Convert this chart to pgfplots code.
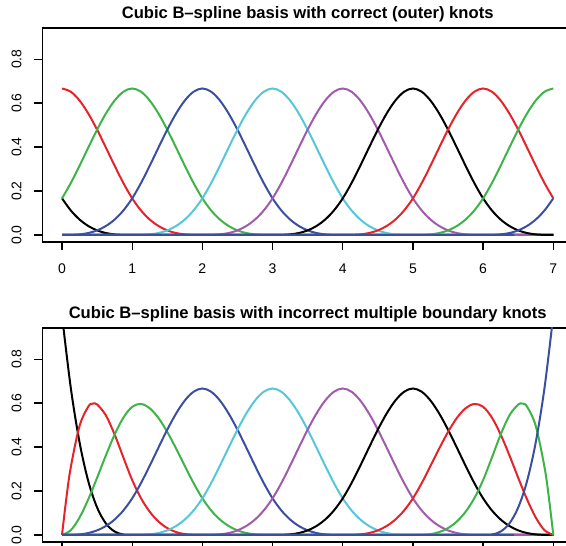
\documentclass[border=0pt]{standalone}
\usepackage{pgfplots}
\pgfplotsset{compat=1.18}
\usepackage{fontspec}
\setmainfont{Liberation Sans}

\definecolor{rred}{HTML}{E6232A}
\definecolor{rgreen}{HTML}{3DB449}
\definecolor{rblue}{HTML}{3A4FA0}
\definecolor{rcyan}{HTML}{56C7DA}
\definecolor{rmagenta}{HTML}{A05BAB}

\pgfplotsset{
  rpanel/.style={
    scale only axis, width=530.6pt, height=214pt,
    xmin=-0.28, xmax=7.28, ymin=-0.032, ymax=0.942,
    xtick={0,1,2,3,4,5,6,7}, ytick={0,0.2,0.4,0.6,0.8},
    xtick pos=bottom, ytick pos=left,
    tick align=outside, major tick length=8pt,
    tick style={black, line width=1.3pt},
    axis line style={line width=1.5pt},
    /pgf/number format/assume math mode=true,
    tick label style={font=\fontsize{14}{16}\selectfont},
    yticklabel style={xshift=-13pt, rotate=90, anchor=base, inner sep=0pt,
      /pgf/number format/fixed, /pgf/number format/fixed zerofill,
      /pgf/number format/precision=1},
    xticklabel style={anchor=base, inner sep=0pt, yshift=-24pt},
    title style={font=\bfseries\fontsize{16.6}{20}\selectfont, anchor=base,
      at={(0.5,1)}, yshift=3.5pt, inner sep=0pt},
    every axis plot/.append style={line width=2pt, no markers, smooth, tension=0.55},
  }
}

\begin{document}
\begin{tikzpicture}
% ---- top: knots at the integers, well outside [0,7]
\begin{axis}[rpanel, at={(42.35pt,304pt)}, anchor=south west,
  title={Cubic B\textendash spline basis with correct (outer) knots}]
\addplot[black] coordinates {(0,0.1667)(0.125,0.1117)(0.25,0.0703)(0.375,0.0407)(0.5,0.0208)(0.625,0.0088)(0.75,0.0026)(0.875,0.0003)(1,0)(7,0)};
\addplot[rred] coordinates {(0,0.6667)(0.125,0.6520)(0.25,0.6120)(0.375,0.5524)(0.5,0.4792)(0.625,0.3981)(0.75,0.3151)(0.875,0.2360)(1,0.1667)(1.125,0.1117)(1.25,0.0703)(1.375,0.0407)(1.5,0.0208)(1.625,0.0088)(1.75,0.0026)(1.875,0.0003)(2,0)(7,0)};
\addplot[rgreen] coordinates {(0,0.1667)(0.125,0.2360)(0.25,0.3151)(0.375,0.3981)(0.5,0.4792)(0.625,0.5524)(0.75,0.6120)(0.875,0.6520)(1,0.6667)(1.125,0.6520)(1.25,0.6120)(1.375,0.5524)(1.5,0.4792)(1.625,0.3981)(1.75,0.3151)(1.875,0.2360)(2,0.1667)(2.125,0.1117)(2.25,0.0703)(2.375,0.0407)(2.5,0.0208)(2.625,0.0088)(2.75,0.0026)(2.875,0.0003)(3,0)(7,0)};
\addplot[rblue] coordinates {(0,0)(0.125,0.0003)(0.25,0.0026)(0.375,0.0088)(0.5,0.0208)(0.625,0.0407)(0.75,0.0703)(0.875,0.1117)(1,0.1667)(1.125,0.2360)(1.25,0.3151)(1.375,0.3981)(1.5,0.4792)(1.625,0.5524)(1.75,0.6120)(1.875,0.6520)(2,0.6667)(2.125,0.6520)(2.25,0.6120)(2.375,0.5524)(2.5,0.4792)(2.625,0.3981)(2.75,0.3151)(2.875,0.2360)(3,0.1667)(3.125,0.1117)(3.25,0.0703)(3.375,0.0407)(3.5,0.0208)(3.625,0.0088)(3.75,0.0026)(3.875,0.0003)(4,0)(7,0)};
\addplot[rcyan] coordinates {(0,0)(1,0)(1.125,0.0003)(1.25,0.0026)(1.375,0.0088)(1.5,0.0208)(1.625,0.0407)(1.75,0.0703)(1.875,0.1117)(2,0.1667)(2.125,0.2360)(2.25,0.3151)(2.375,0.3981)(2.5,0.4792)(2.625,0.5524)(2.75,0.6120)(2.875,0.6520)(3,0.6667)(3.125,0.6520)(3.25,0.6120)(3.375,0.5524)(3.5,0.4792)(3.625,0.3981)(3.75,0.3151)(3.875,0.2360)(4,0.1667)(4.125,0.1117)(4.25,0.0703)(4.375,0.0407)(4.5,0.0208)(4.625,0.0088)(4.75,0.0026)(4.875,0.0003)(5,0)(7,0)};
\addplot[rmagenta] coordinates {(0,0)(2,0)(2.125,0.0003)(2.25,0.0026)(2.375,0.0088)(2.5,0.0208)(2.625,0.0407)(2.75,0.0703)(2.875,0.1117)(3,0.1667)(3.125,0.2360)(3.25,0.3151)(3.375,0.3981)(3.5,0.4792)(3.625,0.5524)(3.75,0.6120)(3.875,0.6520)(4,0.6667)(4.125,0.6520)(4.25,0.6120)(4.375,0.5524)(4.5,0.4792)(4.625,0.3981)(4.75,0.3151)(4.875,0.2360)(5,0.1667)(5.125,0.1117)(5.25,0.0703)(5.375,0.0407)(5.5,0.0208)(5.625,0.0088)(5.75,0.0026)(5.875,0.0003)(6,0)(7,0)};
\addplot[black] coordinates {(0,0)(3,0)(3.125,0.0003)(3.25,0.0026)(3.375,0.0088)(3.5,0.0208)(3.625,0.0407)(3.75,0.0703)(3.875,0.1117)(4,0.1667)(4.125,0.2360)(4.25,0.3151)(4.375,0.3981)(4.5,0.4792)(4.625,0.5524)(4.75,0.6120)(4.875,0.6520)(5,0.6667)(5.125,0.6520)(5.25,0.6120)(5.375,0.5524)(5.5,0.4792)(5.625,0.3981)(5.75,0.3151)(5.875,0.2360)(6,0.1667)(6.125,0.1117)(6.25,0.0703)(6.375,0.0407)(6.5,0.0208)(6.625,0.0088)(6.75,0.0026)(6.875,0.0003)(7,0)};
\addplot[rred] coordinates {(0,0)(4,0)(4.125,0.0003)(4.25,0.0026)(4.375,0.0088)(4.5,0.0208)(4.625,0.0407)(4.75,0.0703)(4.875,0.1117)(5,0.1667)(5.125,0.2360)(5.25,0.3151)(5.375,0.3981)(5.5,0.4792)(5.625,0.5524)(5.75,0.6120)(5.875,0.6520)(6,0.6667)(6.125,0.6520)(6.25,0.6120)(6.375,0.5524)(6.5,0.4792)(6.625,0.3981)(6.75,0.3151)(6.875,0.2360)(7,0.1667)};
\addplot[rgreen] coordinates {(0,0)(5,0)(5.125,0.0003)(5.25,0.0026)(5.375,0.0088)(5.5,0.0208)(5.625,0.0407)(5.75,0.0703)(5.875,0.1117)(6,0.1667)(6.125,0.2360)(6.25,0.3151)(6.375,0.3981)(6.5,0.4792)(6.625,0.5524)(6.75,0.6120)(6.875,0.6520)(7,0.6667)};
\addplot[rblue] coordinates {(0,0)(6,0)(6.125,0.0003)(6.25,0.0026)(6.375,0.0088)(6.5,0.0208)(6.625,0.0407)(6.75,0.0703)(6.875,0.1117)(7,0.1667)};
\end{axis}

% ---- bottom: boundary knots repeated four times at 0 and 7
% (its tick numbers fall below the cropped edge, as in the reference)
\begin{axis}[rpanel, at={(42.35pt,4pt)}, anchor=south west,
  xticklabels={},
  title={Cubic B\textendash spline basis with incorrect multiple boundary knots}]
\addplot[black] coordinates {(0,1)(0.125,0.6699)(0.25,0.4219)(0.375,0.2441)(0.5,0.125)(0.625,0.0527)(0.75,0.0156)(0.875,0.0020)(1,0)(7,0)};
\addplot[rred] coordinates {(0,0)(0.0625,0.1685)(0.125,0.3081)(0.25,0.4961)(0.375,0.5845)(0.4375,0.5977)(0.5,0.5938)(0.625,0.5444)(0.75,0.4570)(0.875,0.3521)(1,0.25)(1.125,0.1675)(1.25,0.1055)(1.375,0.0610)(1.5,0.0313)(1.625,0.0132)(1.75,0.0039)(1.875,0.0005)(2,0)(7,0)};
\addplot[rgreen] coordinates {(0,0)(0.125,0.0216)(0.25,0.0794)(0.375,0.1626)(0.5,0.2604)(0.625,0.3621)(0.75,0.4570)(0.875,0.5343)(1,0.5833)(1.125,0.5962)(1.25,0.5768)(1.375,0.5321)(1.5,0.4688)(1.625,0.3937)(1.75,0.3138)(1.875,0.2358)(2,0.1667)(2.125,0.1117)(2.25,0.0703)(2.375,0.0407)(2.5,0.0208)(2.625,0.0088)(2.75,0.0026)(2.875,0.0003)(3,0)(7,0)};
\addplot[rblue] coordinates {(0,0)(0.125,0.0003)(0.25,0.0026)(0.375,0.0088)(0.5,0.0208)(0.625,0.0407)(0.75,0.0703)(0.875,0.1117)(1,0.1667)(1.125,0.2360)(1.25,0.3151)(1.375,0.3981)(1.5,0.4792)(1.625,0.5524)(1.75,0.6120)(1.875,0.6520)(2,0.6667)(2.125,0.6520)(2.25,0.6120)(2.375,0.5524)(2.5,0.4792)(2.625,0.3981)(2.75,0.3151)(2.875,0.2360)(3,0.1667)(3.125,0.1117)(3.25,0.0703)(3.375,0.0407)(3.5,0.0208)(3.625,0.0088)(3.75,0.0026)(3.875,0.0003)(4,0)(7,0)};
\addplot[rcyan] coordinates {(0,0)(1,0)(1.125,0.0003)(1.25,0.0026)(1.375,0.0088)(1.5,0.0208)(1.625,0.0407)(1.75,0.0703)(1.875,0.1117)(2,0.1667)(2.125,0.2360)(2.25,0.3151)(2.375,0.3981)(2.5,0.4792)(2.625,0.5524)(2.75,0.6120)(2.875,0.6520)(3,0.6667)(3.125,0.6520)(3.25,0.6120)(3.375,0.5524)(3.5,0.4792)(3.625,0.3981)(3.75,0.3151)(3.875,0.2360)(4,0.1667)(4.125,0.1117)(4.25,0.0703)(4.375,0.0407)(4.5,0.0208)(4.625,0.0088)(4.75,0.0026)(4.875,0.0003)(5,0)(7,0)};
\addplot[rmagenta] coordinates {(0,0)(2,0)(2.125,0.0003)(2.25,0.0026)(2.375,0.0088)(2.5,0.0208)(2.625,0.0407)(2.75,0.0703)(2.875,0.1117)(3,0.1667)(3.125,0.2360)(3.25,0.3151)(3.375,0.3981)(3.5,0.4792)(3.625,0.5524)(3.75,0.6120)(3.875,0.6520)(4,0.6667)(4.125,0.6520)(4.25,0.6120)(4.375,0.5524)(4.5,0.4792)(4.625,0.3981)(4.75,0.3151)(4.875,0.2360)(5,0.1667)(5.125,0.1117)(5.25,0.0703)(5.375,0.0407)(5.5,0.0208)(5.625,0.0088)(5.75,0.0026)(5.875,0.0003)(6,0)(7,0)};
\addplot[black] coordinates {(0,0)(3,0)(3.125,0.0003)(3.25,0.0026)(3.375,0.0088)(3.5,0.0208)(3.625,0.0407)(3.75,0.0703)(3.875,0.1117)(4,0.1667)(4.125,0.2360)(4.25,0.3151)(4.375,0.3981)(4.5,0.4792)(4.625,0.5524)(4.75,0.6120)(4.875,0.6520)(5,0.6667)(5.125,0.6520)(5.25,0.6120)(5.375,0.5524)(5.5,0.4792)(5.625,0.3981)(5.75,0.3151)(5.875,0.2360)(6,0.1667)(6.125,0.1117)(6.25,0.0703)(6.375,0.0407)(6.5,0.0208)(6.625,0.0088)(6.75,0.0026)(6.875,0.0003)(7,0)};
\addplot[rred] coordinates {(0,0)(4,0)(4.125,0.0003)(4.25,0.0026)(4.375,0.0088)(4.5,0.0208)(4.625,0.0407)(4.75,0.0703)(4.875,0.1117)(5,0.1667)(5.125,0.2358)(5.25,0.3138)(5.375,0.3937)(5.5,0.4688)(5.625,0.5321)(5.75,0.5768)(5.875,0.5962)(6,0.5833)(6.125,0.5343)(6.25,0.4570)(6.375,0.3621)(6.5,0.2604)(6.625,0.1626)(6.75,0.0794)(6.875,0.0216)(7,0)};
\addplot[rgreen] coordinates {(0,0)(5,0)(5.125,0.0005)(5.25,0.0039)(5.375,0.0132)(5.5,0.0313)(5.625,0.0610)(5.75,0.1055)(5.875,0.1675)(6,0.25)(6.125,0.3521)(6.25,0.4570)(6.375,0.5444)(6.5,0.5938)(6.5625,0.5977)(6.625,0.5845)(6.75,0.4961)(6.875,0.3081)(6.9375,0.1685)(7,0)};
\addplot[rblue] coordinates {(0,0)(6,0)(6.125,0.0020)(6.25,0.0156)(6.375,0.0527)(6.5,0.125)(6.625,0.2441)(6.75,0.4219)(6.875,0.6699)(7,1)};
\end{axis}

\pgfresetboundingbox
\path[use as bounding box] (0pt,0pt) rectangle (566pt,546pt);
\end{tikzpicture}
\end{document}
